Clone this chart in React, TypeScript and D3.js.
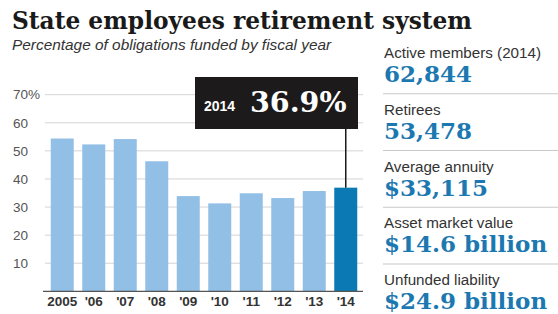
import { useEffect, useRef } from "react";
import * as d3 from "d3";

const years = ["2005", "'06", "'07", "'08", "'09", "'10", "'11", "'12", "'13", "'14"];
const funded = [54.4, 52.3, 54.2, 46.3, 33.9, 31.3, 34.9, 33.2, 35.7, 36.9];
const yTicks = [10, 20, 30, 40, 50, 60, 70];

const statLabels = ["Active members (2014)", "Retirees", "Average annuity", "Asset market value", "Unfunded liability"];
const statValues = ["62,844", "53,478", "$33,115", "$14.6 billion", "$24.9 billion"];

const serif = "'DejaVu Serif', Georgia, serif";
const sans = "'Liberation Sans', Arial, sans-serif";

function App() {
  const ref = useRef<HTMLDivElement>(null);

  useEffect(() => {
    const width = 558;
    const height = 314;

    d3.select(ref.current).selectAll("*").remove();

    const svg = d3
      .select(ref.current)
      .append("svg")
      .attr("width", width)
      .attr("height", height)
      .style("position", "absolute")
      .style("left", "0px")
      .style("top", "0px")
      .style("background", "#fff");

    // title + subtitle
    svg
      .append("text")
      .attr("x", 12)
      .attr("y", 29)
      .attr("font-family", serif)
      .attr("font-weight", "bold")
      .attr("font-size", 23.3)
      .attr("fill", "#1a1a1a")
      .text("State employees retirement system");

    svg
      .append("text")
      .attr("x", 12)
      .attr("y", 50)
      .attr("font-family", sans)
      .attr("font-style", "italic")
      .attr("font-size", 15.4)
      .attr("fill", "#333")
      .text("Percentage of obligations funded by fiscal year");

    const x = d3
      .scaleBand()
      .domain(years)
      .range([46.5, 361.5])
      .paddingInner(0.27)
      .paddingOuter(0.135);

    const y = d3.scaleLinear().domain([0, 70]).range([291.3, 94.7]);

    // gridlines + y labels
    const grid = svg.append("g");
    grid
      .selectAll("line")
      .data(yTicks)
      .join("line")
      .attr("x1", 45)
      .attr("x2", 363)
      .attr("y1", (d) => y(d))
      .attr("y2", (d) => y(d))
      .attr("stroke", "#d4d4d4")
      .attr("stroke-width", 1);

    grid
      .selectAll("text")
      .data(yTicks)
      .join("text")
      .attr("x", 13)
      .attr("y", (d) => y(d))
      .attr("dy", "0.35em")
      .attr("font-family", sans)
      .attr("font-size", 13.5)
      .attr("fill", "#555")
      .text((d) => (d === 70 ? "70%" : String(d)));

    // bars
    svg
      .append("g")
      .selectAll("rect")
      .data(funded)
      .join("rect")
      .attr("x", (d, i) => x(years[i]))
      .attr("y", (d) => y(d))
      .attr("width", x.bandwidth())
      .attr("height", (d) => y(0) - y(d))
      .attr("fill", (d, i) => (i === years.length - 1 ? "#0b79b3" : "#91bfe6"));

    // baseline
    svg
      .append("line")
      .attr("x1", 43)
      .attr("x2", 363)
      .attr("y1", y(0))
      .attr("y2", y(0))
      .attr("stroke", "#555")
      .attr("stroke-width", 1.2);

    // x labels
    svg
      .append("g")
      .selectAll("text")
      .data(years)
      .join("text")
      .attr("x", (d) => x(d) + x.bandwidth() / 2)
      .attr("y", 306)
      .attr("text-anchor", "middle")
      .attr("font-family", sans)
      .attr("font-weight", "bold")
      .attr("font-size", 13.5)
      .attr("fill", "#333")
      .text((d) => d);

    // callout for latest year
    const last = years.length - 1;
    const cx = x(years[last]) + x.bandwidth() / 2;
    svg
      .append("line")
      .attr("x1", cx)
      .attr("x2", cx)
      .attr("y1", 129)
      .attr("y2", y(funded[last]))
      .attr("stroke", "#1a1a1a")
      .attr("stroke-width", 1.5);

    svg
      .append("rect")
      .attr("x", 195)
      .attr("y", 77)
      .attr("width", 163)
      .attr("height", 52)
      .attr("fill", "#1c1a1a");

    svg
      .append("text")
      .attr("x", 204)
      .attr("y", 111)
      .attr("font-family", sans)
      .attr("font-weight", "bold")
      .attr("font-size", 14)
      .attr("fill", "#fff")
      .text("2014");

    svg
      .append("text")
      .attr("x", 250)
      .attr("y", 112)
      .attr("font-family", serif)
      .attr("font-weight", "bold")
      .attr("font-size", 28.5)
      .attr("fill", "#fff")
      .text(funded[last].toFixed(1) + "%");

    // stats panel on the right
    const stats = svg.append("g");
    statLabels.forEach((label, i) => {
      const ly = 58 + i * 56.75;
      if (i > 0) {
        stats
          .append("line")
          .attr("x1", 383)
          .attr("x2", 558)
          .attr("y1", ly - 21)
          .attr("y2", ly - 21)
          .attr("stroke", "#c8c8c8")
          .attr("stroke-width", 1.2);
      }
      stats
        .append("text")
        .attr("x", 384)
        .attr("y", ly)
        .attr("font-family", sans)
        .attr("font-size", 15.2)
        .attr("fill", "#333")
        .text(label);
      stats
        .append("text")
        .attr("x", 384)
        .attr("y", ly + 24)
        .attr("font-family", serif)
        .attr("font-weight", "bold")
        .attr("font-size", 23)
        .attr("fill", "#1c78b0")
        .text(statValues[i]);
    });
  }, []);

  return <div ref={ref}></div>;
}

export default App;
